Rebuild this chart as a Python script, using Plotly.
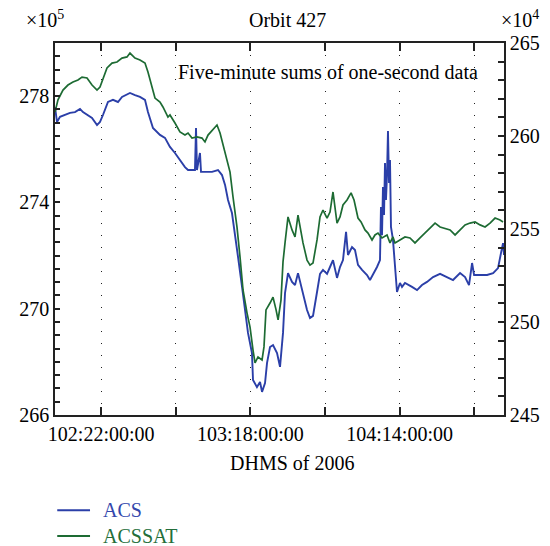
import plotly.graph_objects as go

# ---------------- data ----------------
# time in hours since day 102, 00:00:00 (2006)
acs_hours = [15.81, 16.08, 16.48, 17.15, 17.82, 18.49, 19.16, 19.56, 20.10, 20.77,
             21.44, 21.84, 22.24, 22.91, 23.58, 24.25, 24.79, 25.46, 25.86, 26.53,
             27.20, 27.87, 28.27, 28.94, 29.88, 30.55, 31.22, 31.89, 32.56, 33.23,
             33.64, 34.57, 34.71, 34.84, 35.24, 35.38, 35.91, 36.85, 37.66, 38.19,
             38.60, 39.00, 39.53, 39.94, 40.34, 40.88, 41.28, 41.68, 42.21, 42.35,
             42.88, 43.29, 43.56, 43.96, 44.23, 44.63, 45.03, 45.57, 45.97, 46.37,
             46.64, 47.04, 47.58, 47.98, 48.38, 48.65, 49.05, 49.59, 49.99, 50.39,
             50.93, 51.33, 51.73, 52.27, 52.67, 53.07, 53.61, 54.01, 54.41, 54.82,
             55.08, 55.62, 56.02, 56.42, 56.96, 57.63, 58.03, 58.43, 58.97, 59.37,
             59.50, 59.64, 59.77, 59.91, 60.04, 60.17, 60.31, 60.44, 60.58, 60.71,
             60.84, 61.11, 61.38, 61.65, 62.05, 62.32, 62.72, 63.13, 63.66, 64.33,
             65.00, 65.67, 66.48, 67.42, 68.35, 69.16, 70.10, 70.77, 71.30, 71.71,
             71.98, 72.78, 73.72, 74.53, 75.19, 75.59, 75.86, 75.99]
acs_values = [277.59, 277.03, 277.22, 277.29, 277.37, 277.40, 277.52, 277.40, 277.29, 277.18,
              276.91, 277.03, 277.29, 277.78, 277.86, 277.78, 277.97, 278.08, 278.12, 278.04,
              277.97, 277.86, 277.40, 276.80, 276.54, 276.43, 276.09, 275.86, 275.60, 275.33,
              275.22, 275.22, 276.80, 275.22, 275.86, 275.15, 275.15, 275.15, 275.22, 275.03,
              274.66, 274.09, 273.60, 272.85, 271.95, 270.82, 269.84, 269.09, 268.33, 267.32,
              267.05, 267.24, 266.87, 267.20, 267.96, 268.56, 268.63, 268.33, 267.81, 269.09,
              270.59, 271.34, 271.01, 270.89, 271.34, 271.01, 270.59, 269.95, 269.65, 269.73,
              270.63, 271.31, 271.46, 271.31, 271.57, 271.83, 271.16, 271.57, 271.83, 272.89,
              272.02, 272.32, 272.21, 271.65, 271.46, 271.27, 271.08, 271.27, 271.57, 271.83,
              273.83, 272.77, 274.58, 273.53, 275.48, 274.09, 275.03, 276.69, 274.73, 275.60,
              273.08, 272.59, 271.57, 270.63, 270.97, 270.82, 270.97, 270.89, 270.82, 270.70,
              270.89, 271.01, 271.19, 271.31, 271.19, 271.08, 271.34, 271.19, 270.89, 271.72,
              271.27, 271.27, 271.27, 271.34, 271.53, 272.10, 272.47, 272.02]

sat_hours = [15.81, 16.21, 16.88, 17.55, 18.22, 18.89, 19.43, 20.10, 20.77, 21.44,
             21.84, 22.24, 22.78, 23.45, 24.12, 24.79, 25.46, 25.86, 26.53, 27.20,
             27.87, 28.27, 28.81, 29.21, 29.88, 30.28, 30.95, 31.22, 31.89, 32.56,
             33.23, 33.64, 34.17, 34.84, 35.51, 35.91, 36.32, 36.99, 37.52, 37.93,
             38.33, 38.86, 39.27, 39.67, 40.20, 40.61, 41.01, 41.55, 41.95, 42.35,
             42.62, 43.02, 43.56, 43.82, 44.09, 44.63, 45.03, 45.44, 45.71, 46.10,
             46.37, 46.64, 47.04, 47.58, 47.98, 48.38, 48.65, 49.05, 49.59, 49.99,
             50.39, 50.93, 51.33, 51.73, 52.27, 52.67, 53.07, 53.61, 54.01, 54.41,
             54.95, 55.49, 55.89, 56.42, 56.83, 57.36, 57.76, 58.30, 58.70, 59.10,
             59.64, 60.31, 60.71, 61.11, 61.38, 62.05, 62.72, 63.39, 64.06, 64.73,
             65.41, 66.08, 66.75, 67.42, 68.09, 68.76, 69.43, 70.10, 70.77, 71.44,
             72.11, 72.78, 73.45, 74.12, 74.79, 75.46, 75.86]
sat_values = [261.29, 261.94, 262.47, 262.74, 262.90, 263.01, 263.17, 263.12, 262.74, 262.47,
              262.63, 263.12, 263.66, 263.92, 263.98, 264.19, 264.25, 264.46, 264.19, 264.09,
              263.92, 263.44, 262.63, 262.04, 261.83, 261.56, 261.02, 261.13, 260.70, 260.22,
              260.05, 260.16, 259.89, 259.95, 259.89, 259.68, 260.05, 260.32, 260.59, 260.16,
              259.52, 258.82, 258.06, 256.72, 255.11, 253.49, 251.72, 250.48, 249.73, 248.49,
              247.80, 248.12, 247.96, 248.66, 250.65, 251.02, 251.34, 250.65, 250.11, 251.18,
              253.23, 254.25, 255.65, 254.95, 254.57, 255.75, 255.11, 254.25, 253.33, 253.06,
              253.17, 254.41, 255.65, 256.02, 255.59, 255.91, 256.99, 255.32, 255.65, 256.29,
              256.56, 256.94, 256.56, 255.59, 255.38, 254.95, 254.78, 254.41, 254.68, 254.78,
              254.52, 254.68, 254.25, 254.57, 254.25, 254.41, 254.57, 254.52, 254.25, 254.52,
              254.78, 255.05, 255.32, 255.11, 255.05, 254.95, 254.68, 254.95, 255.22, 255.32,
              255.38, 255.22, 255.11, 255.32, 255.59, 255.48, 255.38]

x_tick_hours = [22, 32, 42, 52, 62, 72]
x_tick_text = ["102:22:00:00", "", "103:18:00:00", "", "104:14:00:00", ""]
left_ticks = [266, 270, 274, 278]
right_ticks = [245, 250, 255, 260, 265]
series_names = ["ACS", "ACSSAT"]

BLUE = "#2b3fa8"
GREEN = "#1d6b33"
TEXT_COLORS = ["#3347ac", "#236e3a"]
FONT = "Liberation Serif"
FS = 20

fig = go.Figure()
fig.add_trace(go.Scatter(
    x=acs_hours, y=acs_values, mode="lines", yaxis="y",
    line=dict(color=BLUE, width=1.9), name=series_names[0]))
fig.add_trace(go.Scatter(
    x=sat_hours, y=sat_values, mode="lines", yaxis="y2",
    line=dict(color=GREEN, width=1.7), name=series_names[1]))

fig.update_layout(
    width=550, height=546,
    margin=dict(l=55, r=46, t=43, b=131),
    paper_bgcolor="white", plot_bgcolor="white",
    font=dict(family=FONT, size=FS, color="black"),
    showlegend=False,
    xaxis=dict(
        range=[15.81, 75.99], tickmode="array", tickvals=x_tick_hours,
        ticktext=x_tick_text, ticks="inside", ticklen=8, tickwidth=2,
        tickcolor="#222", showline=True, linecolor="#222", linewidth=1.5,
        mirror="ticks", showgrid=True, gridcolor="#222", gridwidth=1,
        griddash="1px,11px", zeroline=False, automargin=False,
        tickfont=dict(family=FONT, size=FS)),
    yaxis=dict(
        range=[266, 280], tickmode="array", tickvals=left_ticks,
        ticks="inside", ticklen=5, tickwidth=2, tickcolor="#222",
        showline=True, linecolor="#222", linewidth=1.5, showgrid=False,
        zeroline=False, automargin=False, tickfont=dict(family=FONT, size=FS),
        minor=dict(dtick=0.5, tick0=266, ticks="inside", ticklen=5,
                   tickwidth=2, tickcolor="#222", showgrid=False)),
    yaxis2=dict(
        range=[245, 265], overlaying="y", side="right", tickmode="array",
        tickvals=right_ticks, ticks="inside", ticklen=6, tickwidth=2,
        tickcolor="#222", showline=True, linecolor="#222", linewidth=1.5,
        showgrid=False, zeroline=False, automargin=False,
        tickfont=dict(family=FONT, size=FS),
        minor=dict(dtick=1, tick0=245, ticks="inside", ticklen=6,
                   tickwidth=2, tickcolor="#222", showgrid=False)),
)

# legend drawn below the plot (line sample + coloured label)
legend_y = [-0.256, -0.325]
for name, col, tcol, ly in zip(series_names, [BLUE, GREEN], TEXT_COLORS, legend_y):
    fig.add_shape(type="line", xref="paper", yref="paper",
                  x0=0.005, x1=0.078, y0=ly, y1=ly,
                  line=dict(color=col, width=2))
    fig.add_annotation(text=name, xref="paper", yref="paper",
                       x=0.102, y=ly, xanchor="left", yanchor="middle",
                       showarrow=False, font=dict(family=FONT, size=FS, color=tcol))

fig.add_annotation(text="Orbit 427", xref="paper", yref="paper",
                   x=0.517, y=1.062, xanchor="center", yanchor="middle",
                   showarrow=False, font=dict(family=FONT, size=FS))
fig.add_annotation(text="×10<sup>5</sup>", xref="paper", yref="paper",
                   x=-0.022, y=1.065, xanchor="center", yanchor="middle",
                   showarrow=False, font=dict(family=FONT, size=FS))
fig.add_annotation(text="×10<sup>4</sup>", xref="paper", yref="paper",
                   x=1.036, y=1.065, xanchor="center", yanchor="middle",
                   showarrow=False, font=dict(family=FONT, size=FS))
fig.add_annotation(text="Five-minute sums of one-second data", xref="paper",
                   yref="paper", x=0.608, y=0.922, xanchor="center",
                   yanchor="middle", showarrow=False,
                   font=dict(family=FONT, size=FS))
fig.add_annotation(text="DHMS of 2006", xref="paper", yref="paper",
                   x=0.527, y=-0.13, xanchor="center", yanchor="middle",
                   showarrow=False, font=dict(family=FONT, size=FS))

fig.write_html("out.html")
